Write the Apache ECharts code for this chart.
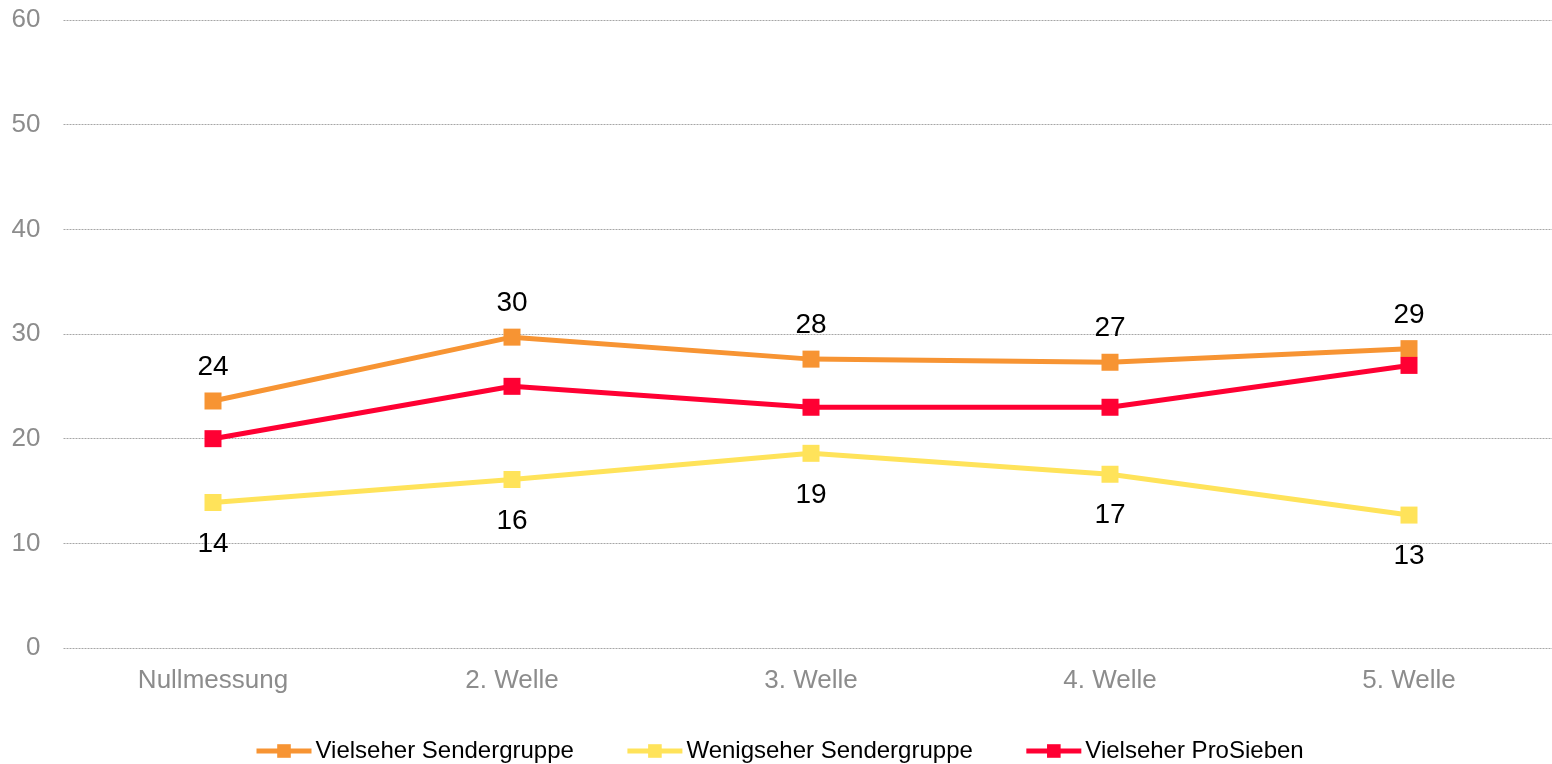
<!DOCTYPE html>
<html>
<head>
<meta charset="utf-8">
<script src="https://cdn.jsdelivr.net/npm/echarts@6/dist/echarts.min.js"></script>
<style>html,body{margin:0;padding:0;background:#fff}#c{width:1552px;height:764px}</style>
</head>
<body>
<div id="c"></div>
<script>
const categories = ['Nullmessung', '2. Welle', '3. Welle', '4. Welle', '5. Welle'];
const vielseherSendergruppe = [23.6, 29.7, 27.6, 27.3, 28.6];
const wenigseherSendergruppe = [13.9, 16.1, 18.6, 16.6, 12.7];
const vielseherProSieben = [20.0, 25.0, 23.0, 23.0, 27.0];
const seriesNames = ['Vielseher Sendergruppe', 'Wenigseher Sendergruppe', 'Vielseher ProSieben'];
const yMin = 0, yMax = 60, yStep = 10;

const FONT = "'Liberation Sans', Arial, sans-serif";
const chart = echarts.init(document.getElementById('c'));
function mk(name, data, color, labelPos, dist, z) {
  return {
    name: name, type: 'line', data: data, z: z,
    symbol: 'rect', symbolSize: 17,
    lineStyle: { color: color, width: 5 },
    itemStyle: { color: color },
    label: labelPos ? {
      show: true, position: labelPos, distance: dist,
      color: '#000', fontSize: 28, fontFamily: FONT,
      formatter: p => Math.round(p.value)
    } : { show: false },
    emphasis: { disabled: true },
    animation: false
  };
}
chart.setOption({
  animation: false,
  grid: { left: 63.5, top: 20, width: 1495, height: 628, containLabel: false, outerBoundsMode: 'none' },
  legend: {
    top: 734, left: 249, itemWidth: 55, itemHeight: 17, itemGap: 51,
    lineStyle: { width: 5 },
    textStyle: { fontSize: 24, fontFamily: FONT, color: '#000', padding: [0, 0, 0, -1] },
    data: seriesNames
  },
  xAxis: {
    type: 'category', data: categories, boundaryGap: true,
    axisLine: { show: false }, axisTick: { show: false },
    axisLabel: { color: '#8c8c8c', fontSize: 26, fontFamily: FONT, margin: 20 }
  },
  yAxis: {
    type: 'value', min: yMin, max: yMax, interval: yStep,
    axisLine: { show: false }, axisTick: { show: false },
    axisLabel: { color: '#8c8c8c', fontSize: 26, fontFamily: FONT, margin: 23 },
    splitLine: { lineStyle: { color: '#a6a6a6', type: [2, 1], width: 1 } }
  },
  series: [
    mk(seriesNames[0], vielseherSendergruppe, '#F79433', 'top', 11, 3),
    mk(seriesNames[1], wenigseherSendergruppe, '#FFE35A', 'bottom', 19, 2),
    mk(seriesNames[2], vielseherProSieben, '#FF0033', null, 0, 4)
  ]
});
</script>
</body>
</html>
